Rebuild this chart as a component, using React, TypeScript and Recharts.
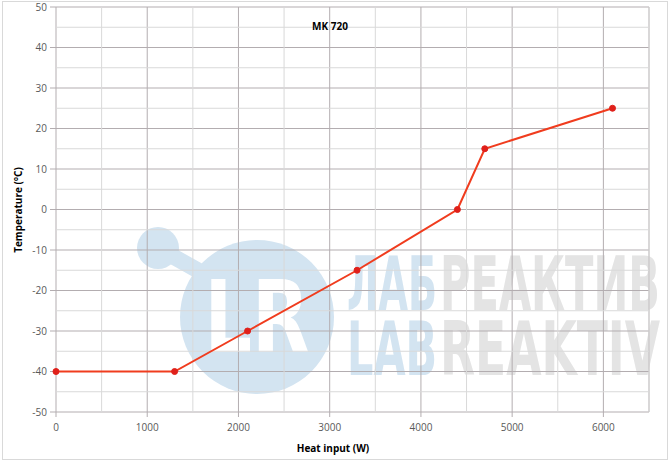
import React from 'react'
import {
    LineChart,
    Line,
    XAxis,
    YAxis,
    CartesianGrid,
    ReferenceLine,
} from 'recharts'

// values
const heatInput = [0, 1300, 2100, 3300, 4400, 4700, 6100]
const temperature = [-40, -40, -30, -15, 0, 15, 25]

const xTicks = [0, 1000, 2000, 3000, 4000, 5000, 6000]
const yTicks = [-50, -40, -30, -20, -10, 0, 10, 20, 30, 40, 50]
const xMinor = [500, 1500, 2500, 3500, 4500, 5500, 6500]
const yMinor = [-45, -35, -25, -15, -5, 5, 15, 25, 35, 45]

const data = heatInput.map((x, i) => ({ x, t: temperature[i] }))

const FONT = '"Open Sans", "Liberation Sans", sans-serif'
const WM_FONT = '"DejaVu Sans Condensed", "DejaVu Sans", sans-serif'
const tickStyle = { fontSize: 10, fill: '#595959', fontFamily: FONT }

const BLUE = '#d3e4f1'
const GREY = '#e4e4e4'

// one piece of the watermark word, stretched vertically
const WmWord = ({ x, y, w, fill, children }: { x: number; y: number; w: number; fill: string; children: string }) => (
    <text transform={`translate(${x} ${y}) scale(1 1.45)`} x={0} y={0} fontSize={52} fontWeight="bold"
        fontFamily={WM_FONT} fill={fill} textLength={w} lengthAdjust="spacingAndGlyphs">
        {children}
    </text>
)

const Watermark = () => (
    <svg width={670} height={462} style={{ position: 'absolute', left: 0, top: 0 }}>
        <line x1={158} y1={248} x2={215} y2={280} stroke={BLUE} strokeWidth={16} />
        <circle cx={158} cy={248} r={21} fill={BLUE} />
        <circle cx={257} cy={317} r={77} fill={BLUE} />
        <text x={257} y={352} textAnchor="middle" fontSize={100} fontWeight="bold" fill="#ffffff"
            fontFamily={WM_FONT} textLength={105} lengthAdjust="spacingAndGlyphs">LR</text>
        <WmWord x={347} y={310} w={90} fill={BLUE}>ЛАБ</WmWord>
        <WmWord x={440} y={310} w={220} fill={GREY}>РЕАКТИВ</WmWord>
        <WmWord x={347} y={375} w={90} fill={BLUE}>LAB</WmWord>
        <WmWord x={440} y={375} w={220} fill={GREY}>REAKTIV</WmWord>
    </svg>
)

export default function App() {
    return (
        <div style={{ position: 'absolute', left: 0, top: 0, width: 670, height: 462, background: '#fff' }}>
            <Watermark />
            <div style={{ position: 'absolute', left: 2, top: 1, width: 664, height: 457, border: '1px solid #d9d9d9' }} />
            <div style={{ position: 'absolute', left: 0, top: 0 }}>
                <LineChart width={670} height={462} data={data} margin={{ top: 7, right: 21, bottom: 0, left: 16 }}>
                    {xMinor.map((v) => (
                        <ReferenceLine key={`vx${v}`} x={v} stroke="#d9d9d9" strokeWidth={1} />
                    ))}
                    {yMinor.map((v) => (
                        <ReferenceLine key={`hy${v}`} y={v} stroke="#d9d9d9" strokeWidth={1} />
                    ))}
                    <CartesianGrid stroke="#b3adb0" strokeWidth={1} />
                    <XAxis
                        dataKey="x"
                        type="number"
                        domain={[0, 6500]}
                        ticks={xTicks}
                        height={50}
                        axisLine={false}
                        tickLine={{ stroke: '#b3adb0' }}
                        tickSize={5}
                        tickMargin={7}
                        tick={tickStyle}
                        label={{
                            content: () => (
                                <text x={333} y={452} textAnchor="middle" fontSize={10} fontWeight="bold"
                                    fontFamily={FONT} fill="#000">Heat input (W)</text>
                            ),
                        }}
                    />
                    <YAxis
                        type="number"
                        domain={[-50, 50]}
                        ticks={yTicks}
                        width={40}
                        axisLine={false}
                        tickLine={{ stroke: '#b3adb0' }}
                        tickSize={6}
                        tickMargin={3}
                        tick={tickStyle}
                        label={{
                            content: () => (
                                <text x={22} y={210} transform="rotate(-90 22 210)" textAnchor="middle"
                                    fontSize={10} fontWeight="bold" fontFamily={FONT} fill="#000">Temperature (°C)</text>
                            ),
                        }}
                    />
                    <Line
                        dataKey="t"
                        stroke="#f03c1e"
                        strokeWidth={2}
                        dot={{ r: 3, fill: '#e0201a', stroke: '#e0201a', strokeWidth: 1 }}
                        isAnimationActive={false}
                    />
                </LineChart>
            </div>
            <div style={{ position: 'absolute', left: 300, top: 19, width: 60, textAlign: 'center', fontFamily: FONT, fontSize: 10, fontWeight: 'bold' }}>
                MK 720
            </div>
        </div>
    )
}
